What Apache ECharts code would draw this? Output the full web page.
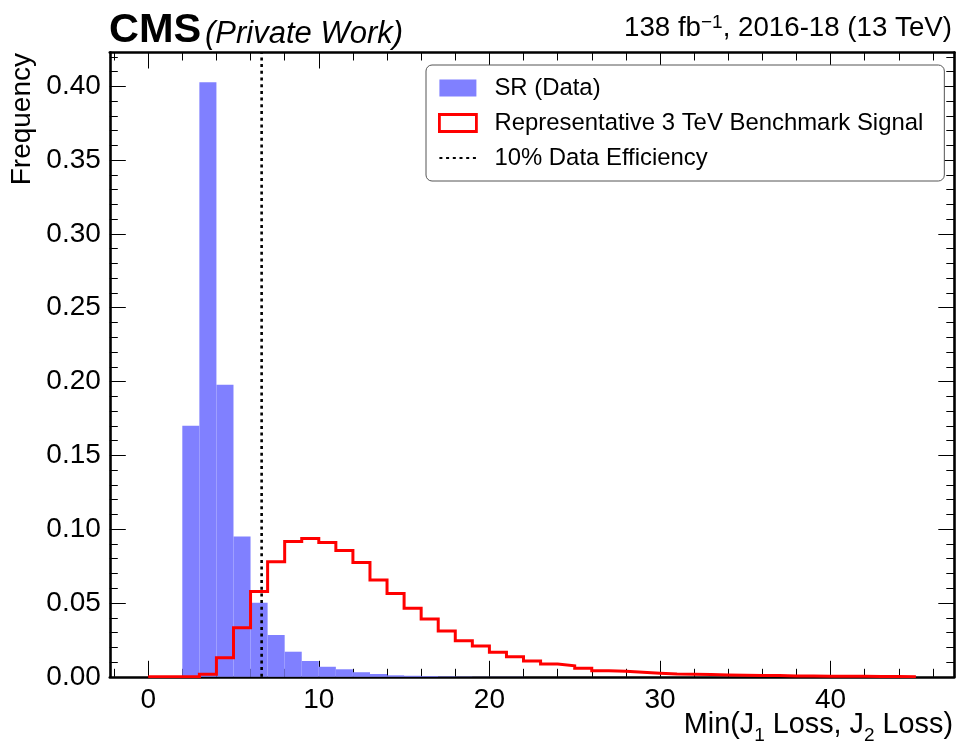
<!DOCTYPE html>
<html><head><meta charset="utf-8">
<script src="https://cdn.jsdelivr.net/npm/echarts@6/dist/echarts.min.js"></script>
<style>html,body{margin:0;padding:0;background:#fff}#c{width:957px;height:747px}</style>
</head><body><div id="c"></div>
<script>
// ---- data ----
const binEdges = [0,1,2,3,4,5,6,7,8,9,10,11,12,13,14,15,16,17,18,19,20,21,22,23,24,25,26,27,28,29,30,31,32,33,34,35,36,37,38,39,40,41,42,43,44,45];
const dataFreq = [0,0,0.1700,0.4028,0.1978,0.0950,0.0502,0.0283,0.0170,0.0107,0.0068,0.0051,0.0031,0.0019,0.0010,0.0007,0.0005,0.0003,0.0002,0.0001,0.0001,0.0001,0,0,0,0,0,0,0,0,0,0,0,0,0,0,0,0,0,0,0,0,0,0,0];
const signalFreq = [0,0,0,0.0017,0.0129,0.0333,0.0577,0.0780,0.0916,0.0936,0.0909,0.0855,0.0774,0.0656,0.0564,0.0464,0.0392,0.0311,0.0245,0.0209,0.0166,0.0136,0.0107,0.0087,0.0075,0.0058,0.0041,0.0037,0.0031,0.0024,0.0019,0.0017,0.0015,0.0013,0.0011,0.0009,0.0008,0.0006,0.0005,0.0004,0.0003,0.0003,0.0002,0.0002,0.0001];
const cutValue = 6.65;
const xMajorTicks = [0,10,20,30,40];
const xMinorTicks = [-2,2,4,6,8,12,14,16,18,22,24,26,28,32,34,36,38,42,44,46];
const yMajorTicks = [0,0.05,0.10,0.15,0.20,0.25,0.30,0.35,0.40];
const yMinorTicks = [0.01,0.02,0.03,0.04,0.06,0.07,0.08,0.09,0.11,0.12,0.13,0.14,0.16,0.17,0.18,0.19,0.21,0.22,0.23,0.24,0.26,0.27,0.28,0.29,0.31,0.32,0.33,0.34,0.36,0.37,0.38,0.39,0.41,0.42];
const xRange = [-2.25, 47.25];
const yRange = [0, 0.4229];
const seriesNames = ['SR (Data)', 'Representative 3 TeV Benchmark Signal', '10% Data Efficiency'];

// ---- chart ----
const FONT = 'Liberation Sans, Arial, Helvetica, sans-serif';
const chart = echarts.init(document.getElementById('c'), null, {renderer: 'canvas'});

function xAx(pos, ticks, len, labels, line) {
  return {
    type: 'value', position: pos, min: xRange[0], max: xRange[1],
    axisLine: {show: line, onZero: false, lineStyle: {color: '#000', width: 2.6}},
    axisTick: {show: true, inside: true, length: len, customValues: ticks, lineStyle: {color: '#000', width: 1}},
    axisLabel: labels ? {show: true, customValues: ticks, fontFamily: FONT, fontSize: 28, color: '#000', margin: 9} : {show: false},
    splitLine: {show: false}
  };
}
function yAx(pos, ticks, len, labels, line) {
  return {
    type: 'value', position: pos, min: yRange[0], max: yRange[1],
    axisLine: {show: line, onZero: false, lineStyle: {color: '#000', width: 2.6}},
    axisTick: {show: true, inside: true, length: len, customValues: ticks, lineStyle: {color: '#000', width: 1}},
    axisLabel: labels ? {show: true, customValues: ticks, fontFamily: FONT, fontSize: 28, color: '#000', margin: 9,
      formatter: v => v.toFixed(2)} : {show: false},
    splitLine: {show: false}
  };
}

const histData = dataFreq.map((v, i) => [binEdges[i], binEdges[i + 1], v]);
const stepData = [[binEdges[0], 0]];
signalFreq.forEach((v, i) => { stepData.push([binEdges[i], v]); stepData.push([binEdges[i + 1], v]); });
stepData.push([binEdges[binEdges.length - 1], 0]);

const option = {
  animation: false,
  backgroundColor: '#fff',
  grid: {left: 109.8, right: 2.7, top: 52.5, bottom: 70.2, containLabel: false},
  xAxis: [
    xAx('bottom', xMajorTicks, 16, true, true),
    xAx('bottom', xMinorTicks, 8, false, false),
    xAx('top', xMajorTicks, 16, false, true),
    xAx('top', xMinorTicks, 8, false, false)
  ],
  yAxis: [
    yAx('left', yMajorTicks, 16, true, true),
    yAx('left', yMinorTicks, 8, false, false),
    yAx('right', yMajorTicks, 16, false, true),
    yAx('right', yMinorTicks, 8, false, false)
  ],
  title: [
    {text: 'CMS', left: 109, top: 10, padding: 0,
      textStyle: {fontFamily: FONT, fontWeight: 'bold', fontSize: 41.5, color: '#000'}},
    {text: '(Private Work)', left: 205, top: 19, padding: 0,
      textStyle: {fontFamily: FONT, fontStyle: 'italic', fontWeight: 'normal', fontSize: 31, color: '#000'}},
    {text: '{m|138 fb}{s|\u22121}{m|, 2016-18 (13 TeV)}', right: 5, top: 13, padding: 0,
      textStyle: {fontWeight: 'normal', rich: {
        m: {fontFamily: FONT, fontWeight: 'normal', fontSize: 27.7, color: '#000', lineHeight: 31},
        s: {fontFamily: FONT, fontWeight: 'normal', fontSize: 19, color: '#000', verticalAlign: 'top', lineHeight: 19}
      }}},
    {text: '{m|Min(J}{b|1}{m| Loss, J}{b|2}{m| Loss)}', right: 4, top: 710, padding: 0,
      textStyle: {fontWeight: 'normal', rich: {
        m: {fontFamily: FONT, fontWeight: 'normal', fontSize: 28.8, color: '#000', lineHeight: 31},
        b: {fontFamily: FONT, fontWeight: 'normal', fontSize: 19, color: '#000', verticalAlign: 'bottom', lineHeight: 19, padding: [0, 0, -4, 0]}
      }}}
  ],
  graphic: [
    {type: 'text', x: 8, y: 53, rotation: Math.PI / 2,
      style: {text: 'Frequency', font: '28px ' + FONT, fill: '#000', align: 'right', verticalAlign: 'top'}}
  ],
  legend: {
    orient: 'vertical', left: 426, top: 65,
    padding: [11, 21, 11, 12], itemWidth: 37, itemHeight: 17, itemGap: 11,
    selectedMode: false,
    backgroundColor: '#fff', borderColor: '#555', borderWidth: 1, borderRadius: 6,
    textStyle: {fontFamily: FONT, fontSize: 23.9, color: '#000', lineHeight: 24, padding: [0, 0, 0, 13]},
    data: [
      {name: seriesNames[0], icon: 'rect', itemStyle: {color: '#8080ff', borderWidth: 0}},
      {name: seriesNames[1], icon: 'rect', itemStyle: {color: '#ffffff', borderColor: '#ff0000', borderWidth: 2.8}},
      {name: seriesNames[2], itemStyle: {opacity: 0}}
    ]
  },
  series: [
    {
      name: seriesNames[0], type: 'custom', xAxisIndex: 0, yAxisIndex: 0, z: 2,
      itemStyle: {color: '#8080ff'},
      encode: {x: [0, 1], y: 2},
      data: histData,
      renderItem: function (params, api) {
        const p0 = api.coord([api.value(0), api.value(2)]);
        const p1 = api.coord([api.value(1), 0]);
        return {type: 'rect', shape: {x: p0[0], y: p0[1], width: p1[0] - p0[0], height: p1[1] - p0[1]},
          style: {fill: '#8080ff'}};
      }
    },
    {
      name: seriesNames[1], type: 'line', xAxisIndex: 0, yAxisIndex: 0, z: 3,
      data: stepData, symbol: 'none', itemStyle: {color: '#ff0000'},
      lineStyle: {color: '#ff0000', width: 3, join: 'miter'}
    },
    {
      name: seriesNames[2], type: 'line', xAxisIndex: 0, yAxisIndex: 0, z: 4,
      data: [[cutValue, yRange[0]], [cutValue, yRange[1]]], symbol: 'none', itemStyle: {color: '#000'},
      lineStyle: {color: '#000', width: 2.6, type: [3, 3.7]}
    }
  ]
};
chart.setOption(option);
</script>
</body></html>
